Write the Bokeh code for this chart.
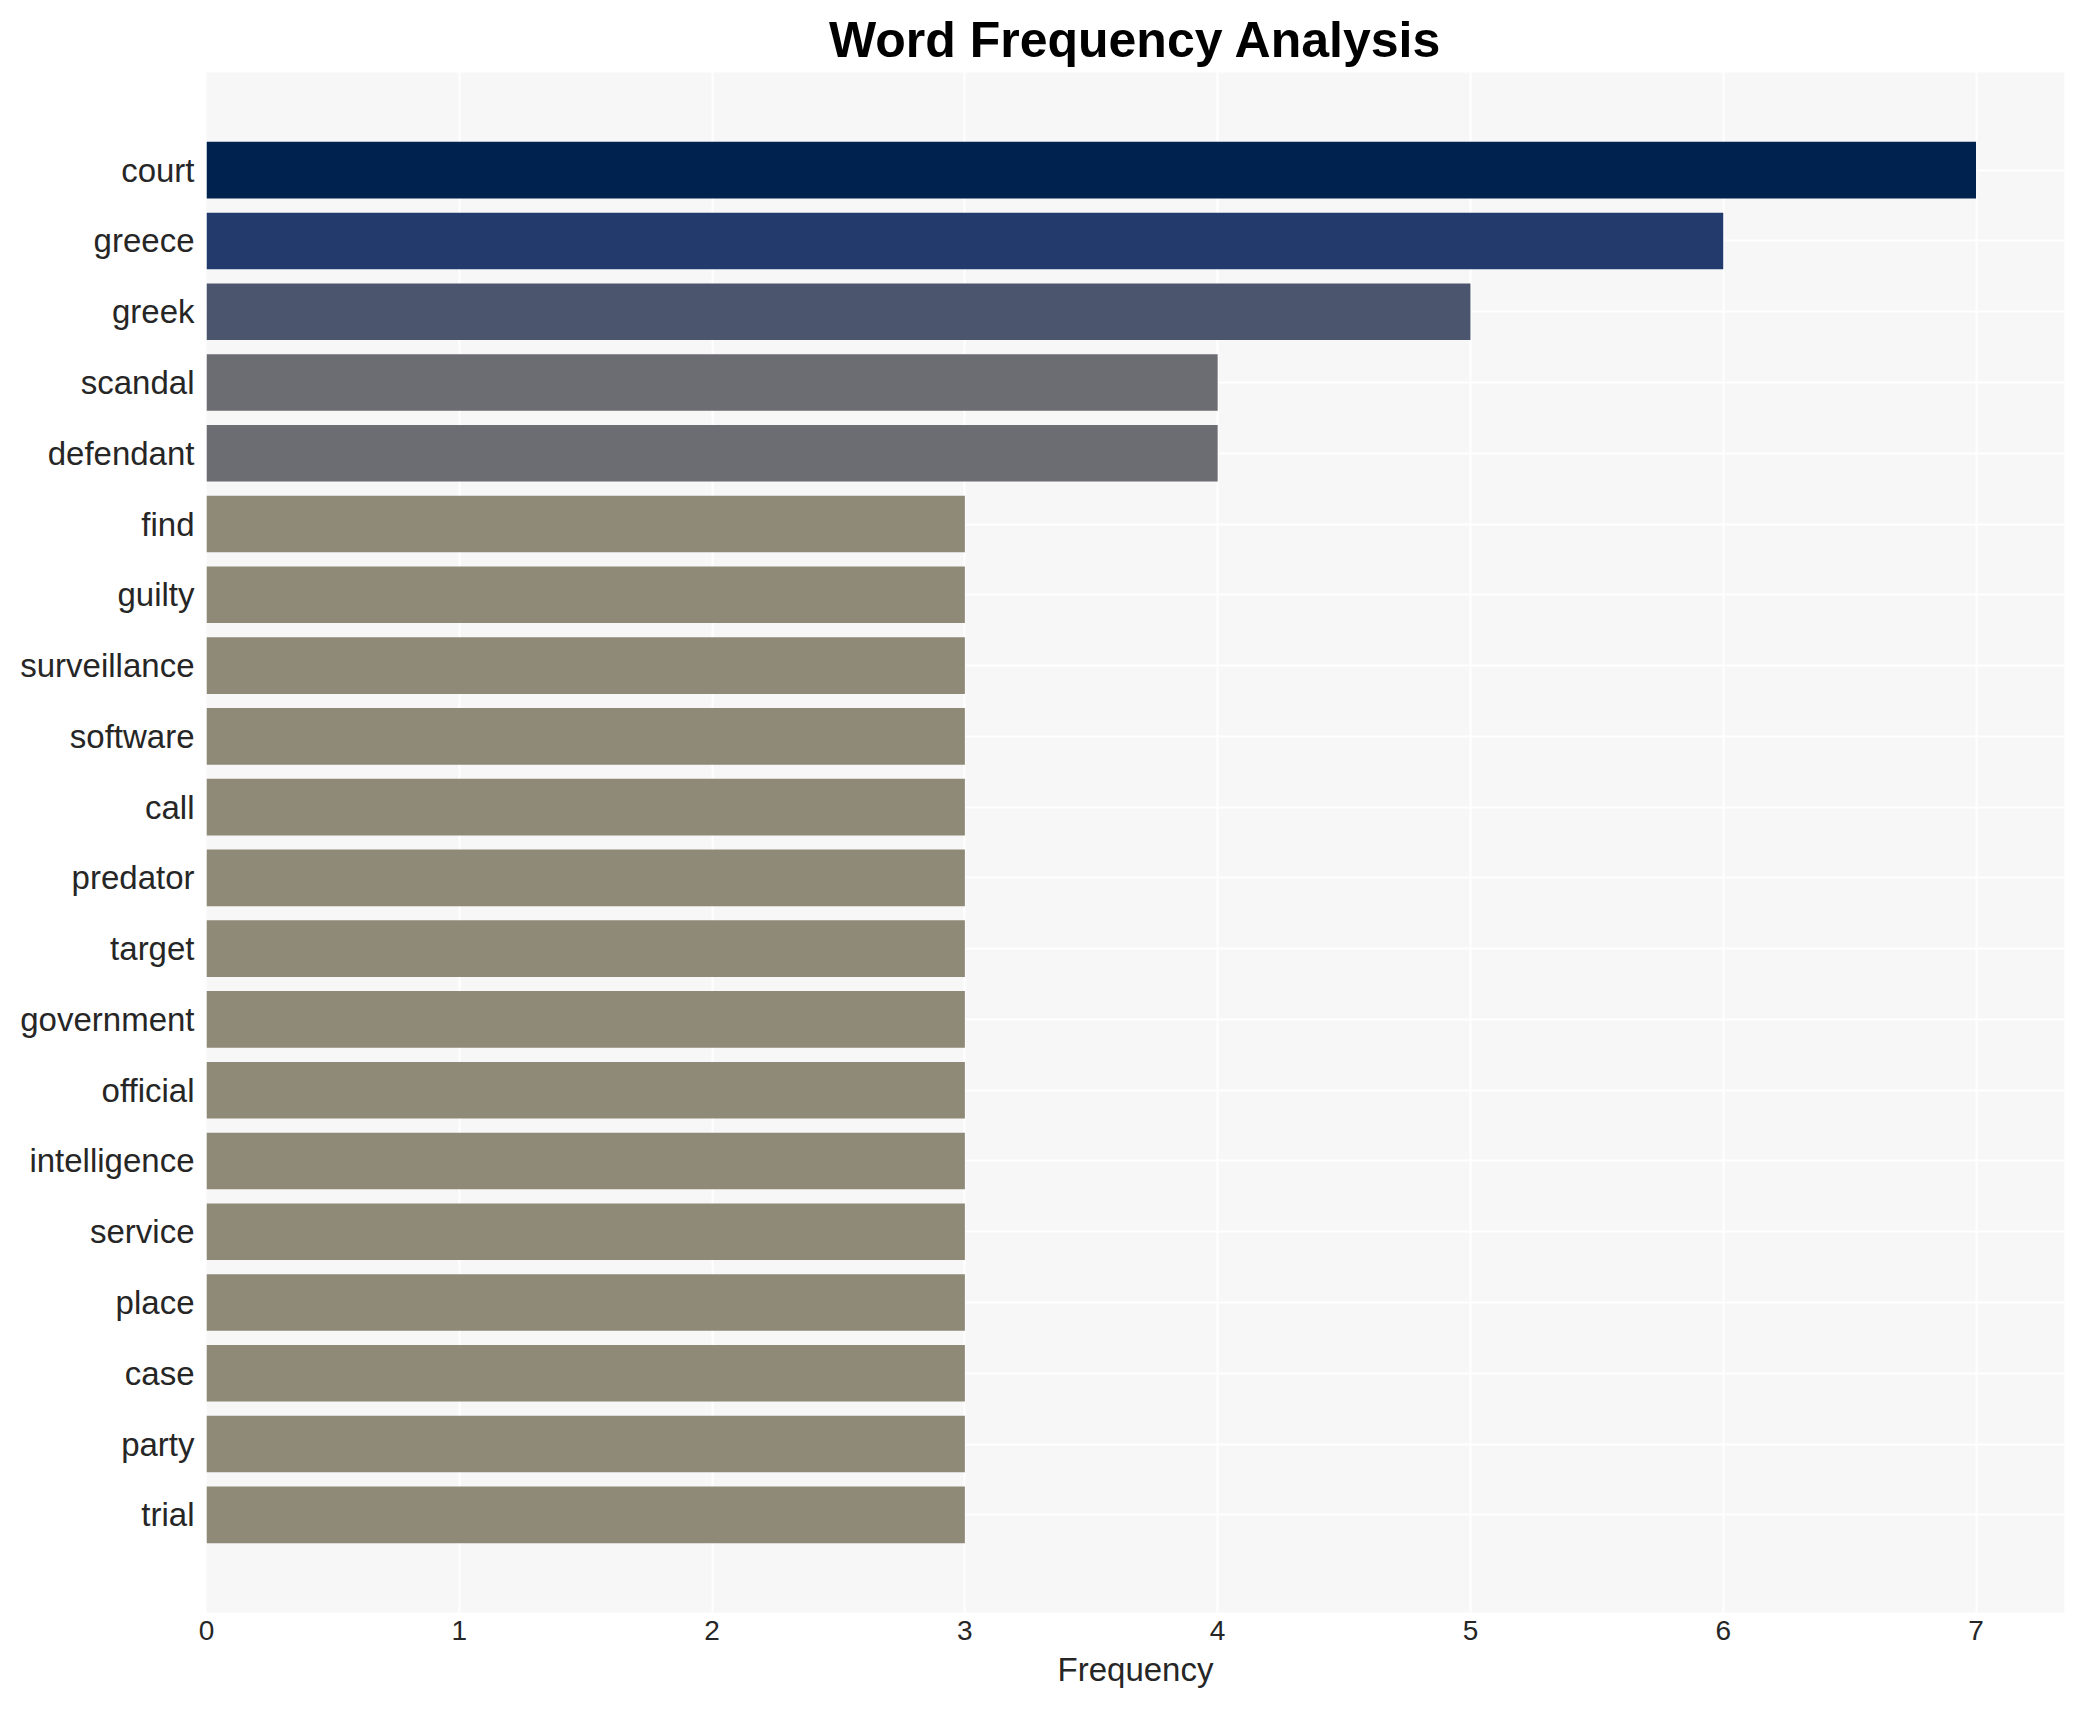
from bokeh.plotting import figure
from bokeh.models import FactorRange, Range1d, FixedTicker, ColumnDataSource
from bokeh.embed import file_html
from bokeh.resources import INLINE

# ---- data ----
words = ["court", "greece", "greek", "scandal", "defendant", "find", "guilty",
         "surveillance", "software", "call", "predator", "target", "government",
         "official", "intelligence", "service", "place", "case", "party", "trial"]
counts = [7, 6, 5, 4, 4, 3, 3, 3, 3, 3, 3, 3, 3, 3, 3, 3, 3, 3, 3, 3]
x_ticks = [0, 1, 2, 3, 4, 5, 6, 7]

# ---- style ----
palette = {7: "#00224e", 6: "#223b6c", 5: "#4c556e", 4: "#6c6d72", 3: "#8f8978"}
FONT = "Liberation Sans"

src = ColumnDataSource(dict(word=words, count=counts,
                            color=[palette[c] for c in counts]))

p = figure(
    width=2077, height=1702,
    y_range=FactorRange(factors=words[::-1], range_padding=0.088,
                        range_padding_units="percent"),
    x_range=Range1d(0, 7.35),
    output_backend="svg", toolbar_location=None, tools="",
    min_border_left=206, min_border_right=13, min_border_top=72,
    min_border_bottom=90,
)

p.hbar(y="word", right="count", left=0, height=0.8, color="color",
       line_color=None, source=src)

p.title.text = "Word Frequency Analysis"
p.title.align = "center"
p.title.text_font = FONT
p.title.text_font_size = "50px"
p.title.text_font_style = "bold"
p.title.text_color = "#000000"
p.title.standoff = 9
p.title.offset = 0

p.background_fill_color = "#f7f7f7"
p.border_fill_color = "white"
p.outline_line_color = None

for g in (p.xgrid, p.ygrid):
    g.grid_line_color = "white"
    g.grid_line_width = 2

p.xaxis.ticker = FixedTicker(ticks=x_ticks)
p.xaxis.axis_label = "Frequency"
p.xaxis.axis_label_text_font = FONT
p.xaxis.axis_label_text_font_size = "33px"
p.xaxis.axis_label_text_font_style = "normal"
p.xaxis.axis_label_text_color = "#262626"
p.xaxis.axis_label_standoff = 8
p.xaxis.major_label_standoff = 8

for ax in (p.xaxis, p.yaxis):
    ax.axis_line_color = None
    ax.major_tick_line_color = None
    ax.minor_tick_line_color = None
    ax.major_tick_out = 0
    ax.major_tick_in = 0
    ax.major_label_text_font = FONT
    ax.major_label_text_color = "#262626"

p.xaxis.major_label_text_font_size = "28px"
p.yaxis.major_label_text_font_size = "33px"
p.yaxis.major_label_standoff = 12

open("out.html", "w").write(file_html(p, INLINE))
